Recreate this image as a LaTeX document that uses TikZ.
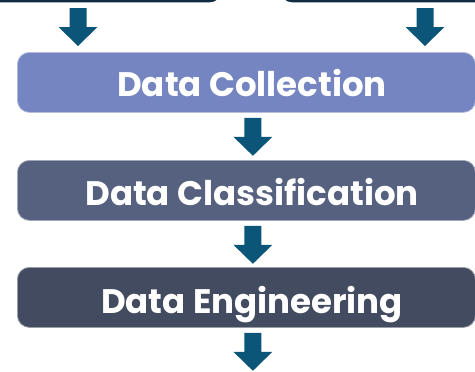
\documentclass[tikz,border=0pt]{standalone}
\usepackage{fontspec}
\setmainfont{Poppins}
\usetikzlibrary{calc}
\definecolor{topcol}{HTML}{0E2D40}
\definecolor{colA}{HTML}{7585C1}
\definecolor{colB}{HTML}{56617F}
\definecolor{colC}{HTML}{434B61}
\definecolor{arrowcol}{HTML}{0B5578}
\tikzset{
  stagebox/.style={rectangle, rounded corners=12pt, minimum width=458pt, minimum height=60pt, inner sep=0pt, draw=#1!55!white, line width=0.8pt, fill=#1},
  stagetext/.style={text=white, font=\bfseries\fontsize{34}{40}\selectfont, inner sep=0pt, anchor=base},
  blockarrow/.pic={\fill[arrowcol] (-8.5,0) -- (8.5,0) -- (8.5,19) -- (19.5,19) -- (0,38) -- (-19.5,19) -- (-8.5,19) -- cycle;}
}
\begin{document}
\begin{tikzpicture}[x=1pt,y=-1pt]
\useasboundingbox (0,0) rectangle (475,372);
\clip (0,0) rectangle (475,372);
\fill[white] (0,0) rectangle (475,372);
% top boxes (cut off)
\node[rectangle, rounded corners=12pt, fill=topcol, minimum width=260pt, minimum height=60pt, anchor=south east] (topL) at (222,2.5) {};
\node[rectangle, rounded corners=12pt, fill=topcol, minimum width=260pt, minimum height=60pt, anchor=south west] (topR) at (280,2.5) {};
% stage boxes
\node[stagebox=colA, anchor=north west] (b1) at (17,52) {};
\node[stagebox=colB, anchor=north west] (b2) at (17,160) {};
\node[stagebox=colC, anchor=north west] (b3) at (17,267) {};
\node[stagetext] (t1) at (252,96) {Data Collection};
\node[stagetext] (t2) at (252,205) {Data Classification};
\node[stagetext] (t3) at (252,313) {Data Engineering};
% arrows
\pic at (78,8) {blockarrow};
\pic at (425,8) {blockarrow};
\pic at ($(b1.south)+(6.5,5)$) {blockarrow};
\pic at ($(b2.south)+(6.5,5)$) {blockarrow};
\pic at ($(b3.south)+(6.5,5)$) {blockarrow};
\end{tikzpicture}
\end{document}
